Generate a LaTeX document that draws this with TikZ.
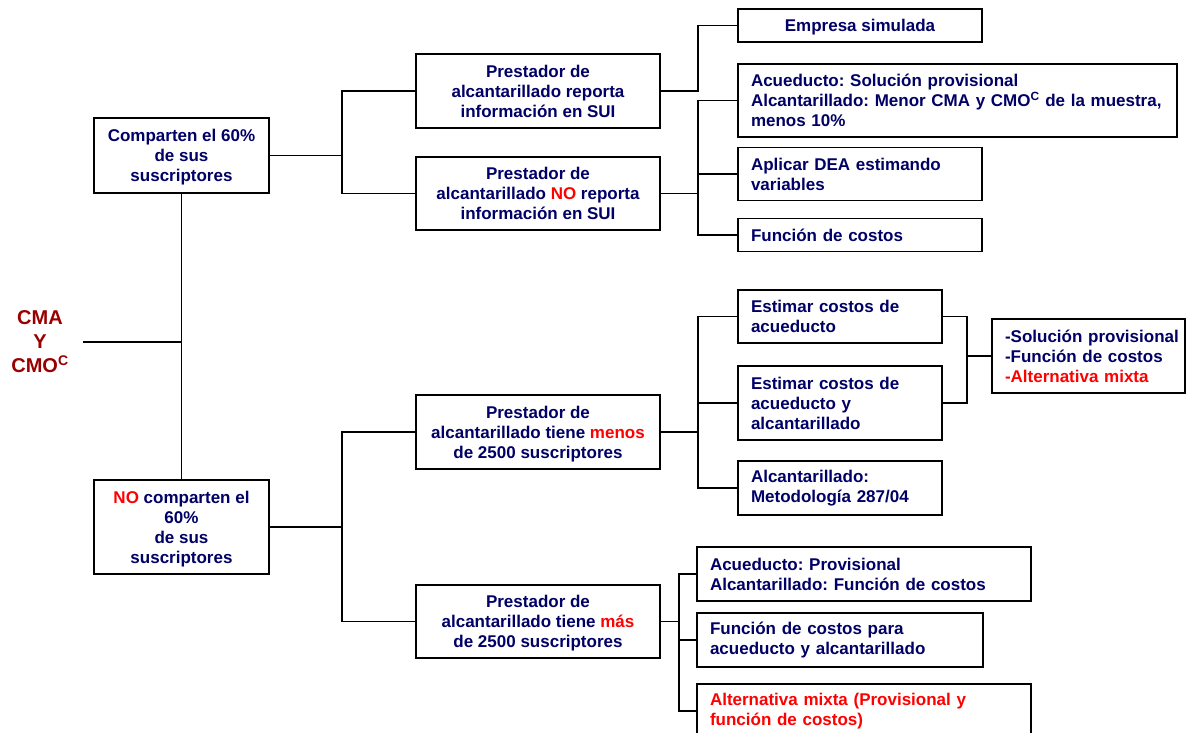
\documentclass[tikz,border=0pt]{standalone}
\usepackage{fontspec}
\setmainfont{Liberation Sans}
\definecolor{navy}{RGB}{0,0,102}
\definecolor{dred}{RGB}{153,0,0}
\definecolor{bred}{RGB}{255,0,0}
\frenchspacing
\begin{document}
\begin{tikzpicture}[x=1pt,y=-1pt,
  box/.style={draw=black, line width=1.4pt, fill=white, text=navy,
    font=\fontsize{17}{20}\selectfont\bfseries, inner sep=0pt},
  cbox/.style={box, align=center, text depth=0pt},
  lbox/.style={box, align=left, inner xsep=13pt},
  link/.style={draw=black, line width=1.4pt}]
\useasboundingbox (0,0) rectangle (1186,732);
\begin{scope}
\clip (0,0) rectangle (1186,732);
% root
\node[text=dred, font=\fontsize{20}{24}\selectfont\bfseries, align=center, minimum width=86pt, inner sep=0pt] (cma) at (40,342) {CMA\\Y\\CMO\textsuperscript{C}};
% level 1
\node[cbox, minimum width=175pt, minimum height=75pt] (c60) at (181.5,155.5) {Comparten el 60\%\\de sus\\suscriptores};
\node[cbox, minimum width=175pt, minimum height=94pt] (nc60) at (181.5,527) {\textcolor{bred}{NO} comparten el\\60\%\\de sus\\suscriptores};
% level 2
\node[cbox, minimum width=244pt, minimum height=74pt] (p1) at (538,91) {Prestador de\\alcantarillado reporta\\información en SUI};
\node[cbox, minimum width=244pt, minimum height=73pt] (p2) at (538,193.5) {Prestador de\\alcantarillado \textcolor{bred}{NO} reporta\\información en SUI};
\node[cbox, minimum width=244pt, minimum height=74pt] (p3) at (538,432) {Prestador de\\alcantarillado tiene \textcolor{bred}{menos}\\de 2500 suscriptores};
\node[cbox, minimum width=244pt, minimum height=73pt] (p4) at (538,621.5) {Prestador de\\alcantarillado tiene \textcolor{bred}{más}\\de 2500 suscriptores};
% level 3 (top)
\node[cbox, minimum width=244pt, minimum height=33pt] (emp) at (860,25.5) {Empresa simulada};
\node[lbox, text width=413pt, minimum width=439pt, minimum height=73pt] (acu) at (957.5,100.5) {\mbox{Acueducto: Solución provisional}\\\mbox{Alcantarillado: Menor CMA y CMO\textsuperscript{C} de la muestra,}\\\mbox{menos 10\%}};
\node[lbox, text width=218pt, minimum width=244pt, minimum height=53pt] (dea) at (860,174) {\mbox{Aplicar DEA estimando}\\\mbox{variables}};
\node[lbox, text width=218pt, minimum width=244pt, minimum height=33pt] (fc) at (860,235) {\mbox{Función de costos}};
% level 3 (bottom, menos)
\node[lbox, text width=178pt, minimum width=204pt, minimum height=53pt] (est1) at (840,316.5) {\mbox{Estimar costos de}\\\mbox{acueducto}};
\node[lbox, text width=178pt, minimum width=204pt, minimum height=74pt] (est2) at (840,403) {\mbox{Estimar costos de}\\\mbox{acueducto y}\\\mbox{alcantarillado}};
\node[lbox, text width=178pt, minimum width=204pt, minimum height=54pt] (alc) at (840,488) {\mbox{Alcantarillado:}\\\mbox{Metodología 287/04}};
\node[lbox, text width=167pt, minimum width=193pt, minimum height=74pt] (sol) at (1088.5,356) {\mbox{-Solución provisional}\\\mbox{-Función de costos}\\\mbox{\textcolor{bred}{-Alternativa mixta}}};
% level 3 (bottom, mas)
\node[lbox, text width=308pt, minimum width=334pt, minimum height=54pt] (ba) at (864,574) {\mbox{Acueducto: Provisional}\\\mbox{Alcantarillado: Función de costos}};
\node[lbox, text width=260pt, minimum width=286pt, minimum height=54pt] (bb) at (840,640) {\mbox{Función de costos para}\\\mbox{acueducto y alcantarillado}};
\node[lbox, text=bred, text width=308pt, minimum width=334pt, minimum height=54pt] (bc) at (864,711) {\mbox{Alternativa mixta (Provisional y}\\\mbox{función de costos)}};
% connectors
\coordinate (t) at (181.5,342);
\draw[link] (cma.east) -- (t);
\draw[link] (c60.south) -- (nc60.north);
\coordinate (j1) at (342,155.5);
\draw[link] (c60.east) -- (j1);
\draw[link] (j1) |- (p1.west);
\draw[link] (j1) |- (p2.west);
\coordinate (j2) at (342,527);
\draw[link] (nc60.east) -- (j2);
\draw[link] (j2) |- (p3.west);
\draw[link] (j2) |- (p4.west);
\coordinate (j3) at (698,91);
\draw[link] (p1.east) -- (j3) |- (emp.west);
\coordinate (j4) at (698,193.5);
\draw[link] (p2.east) -- (j4);
\draw[link] (j4) |- (acu.west);
\draw[link] (j4) |- (dea.west);
\draw[link] (j4) |- (fc.west);
\coordinate (j5) at (698,432);
\draw[link] (p3.east) -- (j5);
\draw[link] (j5) |- (est1.west);
\draw[link] (j5) |- (est2.west);
\draw[link] (j5) |- (alc.west);
\coordinate (j6) at (967,356);
\draw[link] (est1.east) -| (j6);
\draw[link] (est2.east) -| (j6);
\draw[link] (j6) -- (sol.west);
\coordinate (j7) at (679,621.5);
\draw[link] (p4.east) -- (j7);
\draw[link] (j7) |- (ba.west);
\draw[link] (j7) |- (bb.west);
\draw[link] (j7) |- (bc.west);
\end{scope}
\end{tikzpicture}
\end{document}
